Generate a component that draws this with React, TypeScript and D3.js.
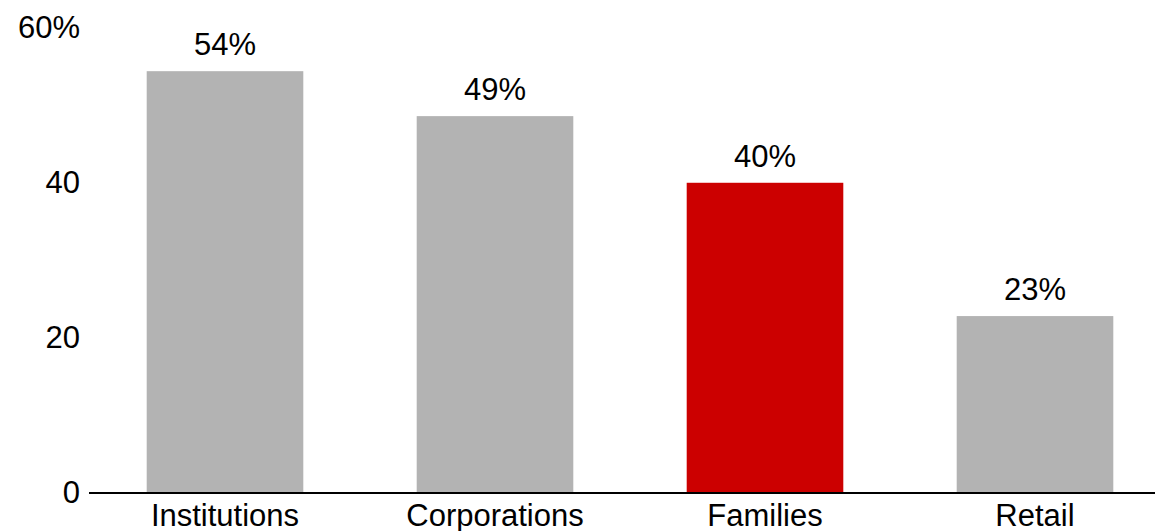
import React from "react";
import * as d3 from "d3";

const categories = ["Institutions", "Corporations", "Families", "Retail"];
const values = [54.3, 48.5, 39.9, 22.7];
const valueLabels = ["54%", "49%", "40%", "23%"];
const highlight = ["Families"];
const yTicks = [0, 20, 40, 60];

const W = 1155;
const H = 531;

export default function App() {
  const x = d3.scaleBand<string>().domain(categories).range([90, 1170]).paddingInner(0.42).paddingOuter(0.21);
  const y = d3.scaleLinear().domain([0, 60]).range([492, 27]);
  const font = "'Liberation Sans', Arial, sans-serif";
  const fs = 31;
  return (
    <svg width={W} height={H} style={{ position: "absolute", left: 0, top: 0, display: "block" }} fontFamily={font}>
      <rect x={0} y={0} width={W} height={H} fill="#fff" />
      {categories.map((c, i) => (
        <g key={c}>
          <rect
            x={x(c)}
            y={y(values[i])}
            width={x.bandwidth()}
            height={y(0) - y(values[i])}
            fill={highlight.includes(c) ? "#cc0000" : "#b3b3b3"}
          />
          <text x={x(c)! + x.bandwidth() / 2} y={y(values[i]) - 16} textAnchor="middle" fontSize={fs} fill="#000">
            {valueLabels[i]}
          </text>
          <text x={x(c)! + x.bandwidth() / 2} y={526} textAnchor="middle" fontSize={fs} fill="#000">
            {c}
          </text>
        </g>
      ))}
      {yTicks.map((t) => (
        <text key={t} x={80} y={y(t)} dy="0.35em" textAnchor="end" fontSize={fs} fill="#000">
          {t === 60 ? "60%" : String(t)}
        </text>
      ))}
      <line x1={89} x2={W} y1={y(0) + 1} y2={y(0) + 1} stroke="#000" strokeWidth={2} />
    </svg>
  );
}
